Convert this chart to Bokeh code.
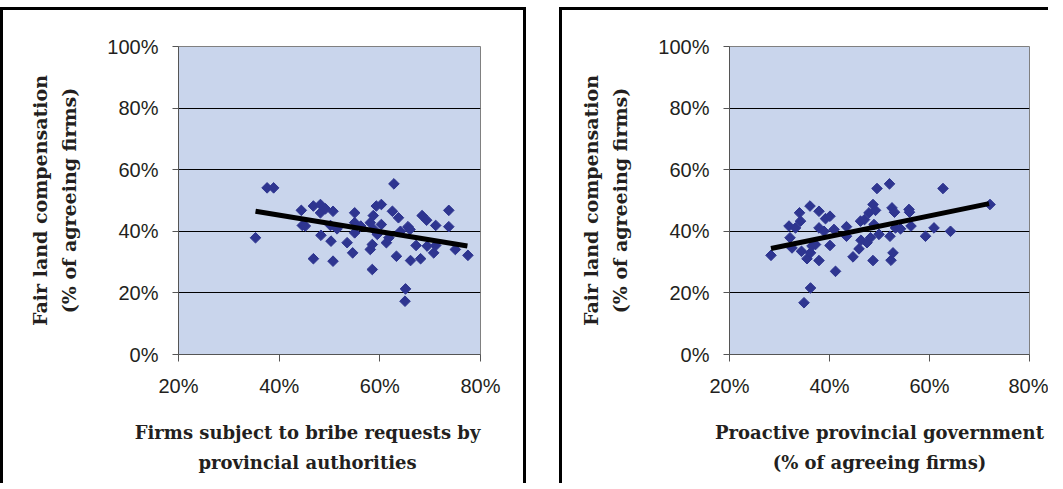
from bokeh.plotting import figure
from bokeh.layouts import row
from bokeh.models import NumeralTickFormatter, FixedTicker, Range1d
from bokeh.embed import file_html
from bokeh.resources import INLINE
import numpy as np

# Left panel: bribe requests vs fair land compensation
bribe_x = [0.353, 0.376, 0.389, 0.444, 0.446, 0.452, 0.468, 0.468, 0.482, 0.482,
           0.483, 0.492, 0.502, 0.503, 0.507, 0.507, 0.515, 0.535, 0.546, 0.550,
           0.550, 0.550, 0.562, 0.581, 0.581, 0.585, 0.585, 0.587, 0.588, 0.593,
           0.595, 0.603, 0.603, 0.613, 0.618, 0.625, 0.628, 0.633, 0.637, 0.641,
           0.651, 0.650, 0.656, 0.660, 0.661, 0.672, 0.681, 0.684, 0.693, 0.694,
           0.707, 0.711, 0.711, 0.737, 0.737, 0.750, 0.775]
bribe_y = [0.379, 0.541, 0.541, 0.468, 0.419, 0.417, 0.482, 0.311, 0.487, 0.460,
           0.387, 0.473, 0.419, 0.368, 0.465, 0.303, 0.408, 0.363, 0.330, 0.460,
           0.428, 0.395, 0.417, 0.428, 0.341, 0.357, 0.276, 0.451, 0.406, 0.482,
           0.390, 0.487, 0.422, 0.363, 0.379, 0.465, 0.554, 0.319, 0.444, 0.400,
           0.213, 0.173, 0.415, 0.406, 0.305, 0.354, 0.311, 0.451, 0.436, 0.352,
           0.330, 0.419, 0.354, 0.468, 0.415, 0.341, 0.322]
bribe_trend_x = [0.353, 0.774]
bribe_trend_y = [0.465, 0.352]

# Right panel: proactive provincial government vs fair land compensation
proactive_x = [0.283, 0.319, 0.321, 0.325, 0.332, 0.340, 0.342, 0.344, 0.349, 0.355,
               0.361, 0.362, 0.362, 0.365, 0.372, 0.379, 0.379, 0.379, 0.389, 0.392,
               0.401, 0.401, 0.409, 0.412, 0.434, 0.434, 0.447, 0.459, 0.462, 0.463,
               0.470, 0.475, 0.479, 0.482, 0.487, 0.487, 0.489, 0.492, 0.495, 0.499,
               0.520, 0.521, 0.523, 0.525, 0.527, 0.530, 0.532, 0.542, 0.559, 0.560,
               0.563, 0.592, 0.609, 0.627, 0.642, 0.721]
proactive_y = [0.322, 0.417, 0.379, 0.346, 0.411, 0.460, 0.433, 0.335, 0.168, 0.311,
               0.482, 0.330, 0.216, 0.352, 0.357, 0.465, 0.411, 0.305, 0.400, 0.441,
               0.449, 0.354, 0.406, 0.270, 0.415, 0.384, 0.317, 0.343, 0.433, 0.371,
               0.438, 0.363, 0.460, 0.379, 0.487, 0.305, 0.422, 0.468, 0.539, 0.390,
               0.554, 0.384, 0.306, 0.476, 0.330, 0.462, 0.411, 0.408, 0.471, 0.462,
               0.417, 0.384, 0.411, 0.539, 0.400, 0.487]
proactive_trend_x = [0.283, 0.719]
proactive_trend_y = [0.344, 0.490]

y_label = "Fair land compensation\n(% of agreeing firms)"
left_x_label = "Firms subject to bribe requests by       \nprovincial authorities       "
right_x_label = "Proactive provincial government\n(% of agreeing firms)"

TEXT = "#231f20"
FILL = "#c9d5ec"
MARK = "#2e3590"
H = 476


def panel(xs, ys, tx, ty, xlabel, width, mbl, mbr, styles):
    p = figure(width=width, height=H, output_backend="svg", toolbar_location=None,
               x_range=Range1d(0.2, 0.8), y_range=Range1d(0, 1),
               min_border_left=mbl, min_border_right=mbr,
               min_border_top=36, min_border_bottom=132)
    p.styles = styles
    p.background_fill_color = FILL
    p.border_fill_color = "white"
    p.outline_line_color = "#808080"
    p.outline_line_width = 1
    p.xgrid.visible = False
    p.ygrid.ticker = FixedTicker(ticks=[0.2, 0.4, 0.6, 0.8])
    p.ygrid.grid_line_color = "black"
    p.ygrid.grid_line_width = 1
    p.xaxis.ticker = FixedTicker(ticks=[0.2, 0.4, 0.6, 0.8])
    p.yaxis.ticker = FixedTicker(ticks=[0, 0.2, 0.4, 0.6, 0.8, 1.0])
    for ax in (p.xaxis[0], p.yaxis[0]):
        ax.formatter = NumeralTickFormatter(format="0%")
        ax.axis_line_color = "#555555"
        ax.major_tick_line_color = "#555555"
        ax.minor_tick_line_color = None
        ax.major_tick_in = 0
        ax.major_label_text_font = "Liberation Sans"
        ax.major_label_text_font_size = "20px"
        ax.major_label_text_color = TEXT
        ax.axis_label_text_font = "DejaVu Serif"
        ax.axis_label_text_font_style = "bold"
        ax.axis_label_text_font_size = "18px"
        ax.axis_label_text_color = TEXT
        ax.axis_label_text_line_height = 1.45
    p.yaxis.axis_label_text_font_size = "19px"
    p.yaxis.axis_label_text_line_height = 1.35
    p.xaxis.major_tick_out = 7
    p.yaxis.major_tick_out = 6
    p.xaxis.major_label_standoff = 13
    p.yaxis.major_label_standoff = 14
    p.xaxis.axis_label = xlabel
    p.yaxis.axis_label = y_label
    p.xaxis.axis_label_standoff = 22
    p.yaxis.axis_label_standoff = 24
    p.scatter(xs, ys, marker="square", angle=np.pi / 4, size=7.5,
              fill_color=MARK, line_color=MARK)
    p.line(tx, ty, line_color="black", line_width=5)
    return p


p1 = panel(bribe_x, bribe_y, bribe_trend_x, bribe_trend_y, left_x_label, 526, 175, 49,
           {"border-left": "3px solid black", "border-top": "3px solid black",
            "border-right": "3px solid black"})
p2 = panel(proactive_x, proactive_y, proactive_trend_x, proactive_trend_y, right_x_label,
           489, 167, 22,
           {"border-left": "3px solid black", "border-top": "3px solid black"})

layout = row(p1, p2, spacing=33, styles={"margin-top": "7px"})
open("out.html", "w").write(file_html(layout, INLINE))
